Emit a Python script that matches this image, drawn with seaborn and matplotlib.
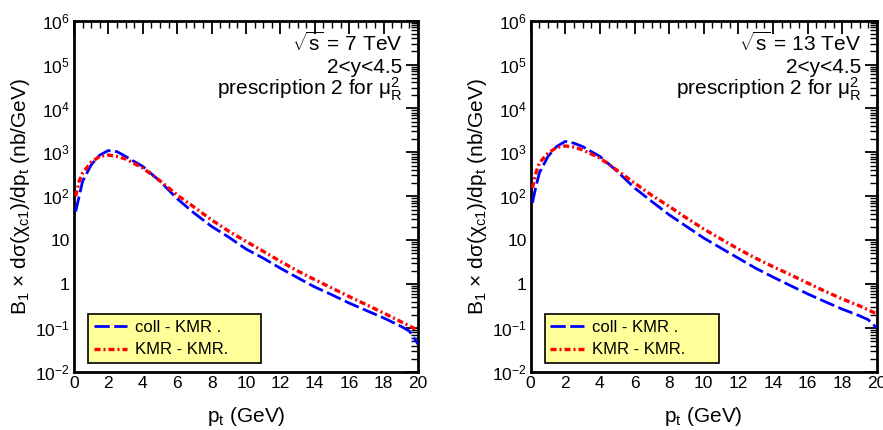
import numpy as np
import pandas as pd
import matplotlib
matplotlib.use("Agg")
import matplotlib.pyplot as plt
import seaborn as sns
from matplotlib.ticker import FixedLocator, MultipleLocator, LogLocator, NullFormatter

# ---------------- data ----------------
pt_blue = [0.1, 0.3, 0.5, 1.0, 1.5, 2.0, 2.5, 3.0, 3.5, 4.0, 5.0, 6.0, 7.0, 8.0, 9.0, 10.0,
           11.0, 12.0, 13.0, 14.0, 15.0, 16.0, 17.0, 18.0, 19.0, 19.5, 20.0]
coll_7 = [45, 100, 220, 520, 870, 1100, 1040, 810, 620, 480, 220, 88, 41, 20.6, 11.7, 6.3,
          3.9, 2.3, 1.4, 0.86, 0.57, 0.37, 0.25, 0.17, 0.11, 0.085, 0.043]
coll_13 = [71, 165, 340, 810, 1360, 1780, 1620, 1360, 1040, 810, 370, 155, 76, 38, 20.6, 11.2,
           6.6, 3.9, 2.3, 1.45, 0.93, 0.60, 0.40, 0.27, 0.19, 0.155, 0.10]

pt_red = [0.1, 0.3, 0.5, 1.0, 1.5, 2.0, 2.5, 3.0, 4.0, 5.0, 6.0, 7.0, 8.0, 9.0, 10.0,
          11.0, 12.0, 13.0, 14.0, 15.0, 16.0, 17.0, 18.0, 19.0, 20.0]
kmr_7 = [100, 220, 340, 600, 810, 870, 810, 710, 440, 225, 107, 56, 29, 16, 9.4,
         5.6, 3.3, 2.0, 1.26, 0.81, 0.52, 0.34, 0.22, 0.14, 0.089]
kmr_13 = [155, 340, 575, 960, 1290, 1400, 1320, 1140, 740, 390, 200, 105, 59, 32, 18,
          10.6, 6.3, 3.9, 2.5, 1.64, 1.06, 0.69, 0.46, 0.32, 0.21]

panels = [("7", coll_7, kmr_7), ("13", coll_13, kmr_13)]
series_names = ["coll - KMR .", "KMR - KMR."]
ytick_vals = [1e-2, 1e-1, 1, 10, 1e2, 1e3, 1e4, 1e5, 1e6]
ytick_labels = ["$10^{-2}$", "$10^{-1}$", "1", "10", "$10^{2}$", "$10^{3}$", "$10^{4}$", "$10^{5}$", "$10^{6}$"]

# ---------------- style ----------------
sns.set_style("white")
plt.rcParams["font.family"] = ["Liberation Sans", "DejaVu Sans"]
plt.rcParams["mathtext.fontset"] = "custom"
plt.rcParams["mathtext.rm"] = "Liberation Sans"
plt.rcParams["mathtext.it"] = "Liberation Sans:italic"
plt.rcParams["mathtext.bf"] = "Liberation Sans:bold"
plt.rcParams["text.color"] = "black"
plt.rcParams["axes.labelcolor"] = "black"
plt.rcParams["xtick.color"] = "black"
plt.rcParams["ytick.color"] = "black"

fig = plt.figure(figsize=(8.83, 4.30), dpi=100)
axes_pos = [[0.0838, 0.135, 0.3896, 0.817], [0.601, 0.135, 0.392, 0.817]]

for (energy, coll, kmr), pos in zip(panels, axes_pos):
    ax = fig.add_axes(pos)
    df_b = pd.DataFrame({"pt": pt_blue, "val": coll, "series": series_names[0]})
    df_r = pd.DataFrame({"pt": pt_red, "val": kmr, "series": series_names[1]})
    sns.lineplot(data=df_b, x="pt", y="val", ax=ax, color="#0000ff", lw=2.0,
                 dashes=False, label=series_names[0], zorder=3)
    sns.lineplot(data=df_r, x="pt", y="val", ax=ax, color="#ff0000", lw=2.4,
                 dashes=False, label=series_names[1], zorder=4)
    lines = ax.get_lines()
    lines[0].set_dashes([5.5, 1.6])
    lines[1].set_dashes([1.8, 0.9, 0.6, 0.9])
    ax.set_yscale("log")
    ax.set_xlim(0, 20)
    ax.set_ylim(1e-2, 1e6)

    ax.yaxis.set_major_locator(FixedLocator(ytick_vals))
    ax.set_yticklabels(ytick_labels)
    ax.yaxis.set_minor_locator(LogLocator(base=10, subs=np.arange(2, 10), numticks=20))
    ax.yaxis.set_minor_formatter(NullFormatter())
    ax.xaxis.set_major_locator(MultipleLocator(2))
    ax.xaxis.set_minor_locator(MultipleLocator(0.5))

    ax.tick_params(which="both", direction="in", top=True, right=True, labelsize=12.5, pad=3,
                   colors="black")
    ax.tick_params(which="major", length=9, width=1.3)
    ax.tick_params(which="minor", length=5, width=1.0)
    for sp in ax.spines.values():
        sp.set_linewidth(2.0)
        sp.set_color("black")

    ax.set_xlabel("p$_\\mathrm{t}$ (GeV)", fontsize=15, labelpad=10)
    ax.set_ylabel("B$_1$ × dσ(χ$_\\mathrm{c1}$)/dp$_\\mathrm{t}$ (nb/GeV)", fontsize=15, labelpad=2)

    ax.text(0.955, 0.935, "$\\sqrt{\\mathrm{s}}$ = " + energy + " TeV", transform=ax.transAxes,
            ha="right", va="center", fontsize=15)
    ax.text(0.955, 0.868, "2<y<4.5", transform=ax.transAxes, ha="right", va="center", fontsize=15)
    ax.text(0.955, 0.805, "prescription 2 for μ$^2_\\mathrm{R}$", transform=ax.transAxes,
            ha="right", va="center", fontsize=15)

    leg = ax.legend(loc="lower left", bbox_to_anchor=(0.04, 0.025, 0.503, 0.13), mode="expand",
                    frameon=True, fancybox=False, fontsize=12, handlelength=2.0,
                    handletextpad=0.5, borderpad=0.35, labelspacing=0.45, borderaxespad=0.0)
    fr = leg.get_frame()
    fr.set_facecolor("#ffff99")
    fr.set_edgecolor("black")
    fr.set_linewidth(1.2)
    fr.set_alpha(1.0)

fig.savefig("out.png", dpi=100)
